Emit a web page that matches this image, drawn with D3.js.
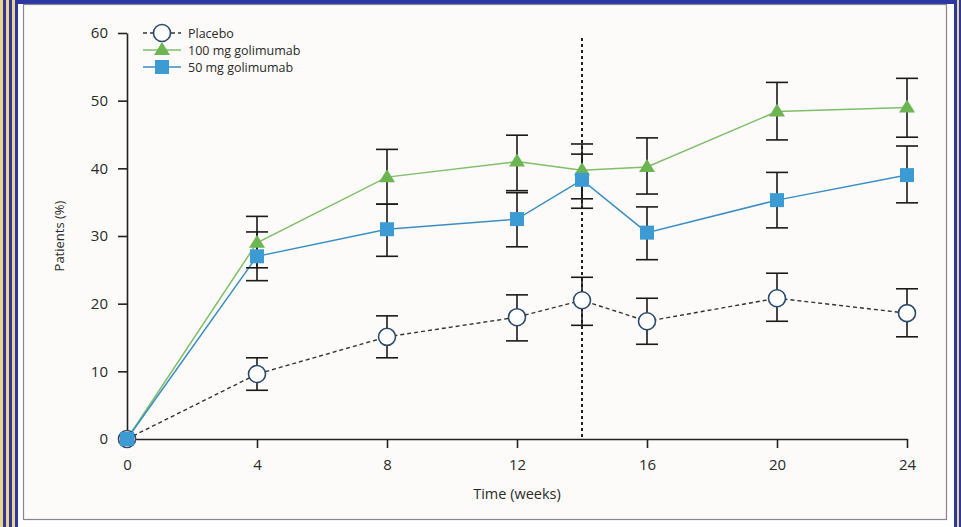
<!DOCTYPE html>
<html>
<head>
<meta charset="utf-8">
<script src="https://d3js.org/d3.v7.min.js"></script>
<style>
    body {margin: 0; background: #ffffff;}
    #chart text {font-family: "Open Sans", sans-serif; fill: #2a2a2a;}
    .axis path, .axis line {stroke: #222; stroke-width: 1.6px;}
    .axis text {font-size: 15px;}
</style>
</head>
<body>
<div id="chart"></div>
<script>

    let weeks = [0, 4, 8, 12, 14, 16, 20, 24];

    let placebo   = [0, 9.6, 15.1, 18.0, 20.5, 17.4, 20.8, 18.6];
    let placeboLo = [0, 7.2, 12.0, 14.5, 16.8, 14.0, 17.4, 15.1];
    let placeboHi = [0, 12.0, 18.2, 21.3, 23.9, 20.8, 24.5, 22.2];

    let g100   = [0, 29.0, 38.7, 41.0, 39.7, 40.2, 48.4, 49.0];
    let g100Lo = [0, 25.3, 34.7, 36.7, 35.5, 36.2, 44.2, 44.6];
    let g100Hi = [0, 32.9, 42.8, 44.9, 43.6, 44.5, 52.7, 53.3];

    let g50   = [0, 27.0, 31.0, 32.5, 38.3, 30.5, 35.3, 39.0];
    let g50Lo = [0, 23.4, 27.0, 28.4, 34.1, 26.5, 31.2, 34.9];
    let g50Hi = [0, 30.6, 34.7, 36.4, 42.1, 34.3, 39.4, 43.3];

    let xTicks = [0, 4, 8, 12, 16, 20, 24];
    let yTicks = [0, 10, 20, 30, 40, 50, 60];
    let cutoffWeek = 14;

    let series = [
        {name: "Placebo", values: placebo, lo: placeboLo, hi: placeboHi, marker: "circle"},
        {name: "100 mg golimumab", values: g100, lo: g100Lo, hi: g100Hi, marker: "triangle"},
        {name: "50 mg golimumab", values: g50, lo: g50Lo, hi: g50Hi, marker: "square"}
    ];

    let W = 961, H = 527;
    let margin = {top: 33, right: 54, bottom: 88, left: 127};

    let svg = d3.select("#chart").append("svg")
        .attr("width", W).attr("height", H);

    // scanned page frame
    let stripes = ["#ecd48a", "#2b37a3", "#ecd48a", "#2b37a3", "#ecd48a", "#2b37a3"];
    stripes.forEach(function(c, i) {
        svg.append("rect").attr("x", i * 3).attr("y", 0).attr("width", 3).attr("height", H).attr("fill", c);
    });
    svg.append("rect").attr("x", 18).attr("y", 0).attr("width", 937).attr("height", 4).attr("fill", "#2b37a3");
    svg.append("rect").attr("x", 954).attr("y", 0).attr("width", 3).attr("height", H).attr("fill", "#2b37a3");
    svg.append("rect").attr("x", 957).attr("y", 0).attr("width", 2).attr("height", H).attr("fill", "#ecd48a");
    svg.append("rect").attr("x", 959).attr("y", 0).attr("width", 2).attr("height", H).attr("fill", "#2b37a3");

    svg.append("rect")
        .attr("x", 23.5).attr("y", 4.5).attr("width", 923).attr("height", 515)
        .attr("fill", "#fcfbf9").attr("stroke", "#8a8590").attr("stroke-width", 1.2);

    let x = d3.scaleLinear().domain([0, 24]).range([margin.left, 907]);
    let y = d3.scaleLinear().domain([0, 60]).range([439, margin.top]);

    let yAxis = d3.axisLeft(y).tickValues(yTicks).tickSize(9).tickSizeOuter(0).tickPadding(10);
    let xAxis = d3.axisBottom(x).tickValues(xTicks).tickSize(9).tickSizeOuter(0).tickPadding(11);

    svg.append("g").attr("class", "axis")
        .attr("transform", "translate(" + margin.left + ",0)")
        .call(yAxis);

    svg.append("g").attr("class", "axis")
        .attr("transform", "translate(0," + y(0) + ")")
        .call(xAxis);

    svg.selectAll(".axis .domain").attr("stroke-width", 1.8);

    // cut-off at week 14
    svg.append("line")
        .attr("x1", x(cutoffWeek)).attr("x2", x(cutoffWeek))
        .attr("y1", 38).attr("y2", y(0))
        .attr("stroke", "#222").attr("stroke-width", 2)
        .attr("stroke-dasharray", "3,3");

    svg.append("text")
        .attr("transform", "translate(64," + y(30) + ") rotate(-90)")
        .attr("text-anchor", "middle")
        .style("font-size", "13px")
        .text("Patients (%)");

    svg.append("text")
        .attr("x", x(12)).attr("y", 499)
        .attr("text-anchor", "middle")
        .style("font-size", "14.5px")
        .text("Time (weeks)");

    let styles = {
        circle: {line: "#333", width: 1.4, dash: "4,3"},
        triangle: {line: "#7fbf6a", width: 1.5, dash: null},
        square: {line: "#3a8fc2", width: 1.5, dash: null}
    };

    let line = d3.line()
        .x(function(d, i) { return x(weeks[i]); })
        .y(function(d) { return y(d); });

    series.forEach(function(s) {
        let st = styles[s.marker];
        svg.append("path")
            .attr("d", line(s.values))
            .attr("fill", "none")
            .attr("stroke", st.line)
            .attr("stroke-width", st.width)
            .attr("stroke-dasharray", st.dash);
    });

    // error bars
    let cap = 11;
    series.forEach(function(s) {
        let g = svg.append("g").attr("stroke", "#1a1a1a").attr("stroke-width", 1.6);
        weeks.forEach(function(w, i) {
            if (s.lo[i] === s.hi[i]) return;
            let cx = x(w);
            g.append("line").attr("x1", cx).attr("x2", cx).attr("y1", y(s.lo[i])).attr("y2", y(s.hi[i]));
            g.append("line").attr("x1", cx - cap).attr("x2", cx + cap).attr("y1", y(s.lo[i])).attr("y2", y(s.lo[i]));
            g.append("line").attr("x1", cx - cap).attr("x2", cx + cap).attr("y1", y(s.hi[i])).attr("y2", y(s.hi[i]));
        });
    });

    function drawMarker(g, type, cx, cy) {
        if (type === "circle") {
            g.append("circle").attr("cx", cx).attr("cy", cy).attr("r", 8.5)
                .attr("fill", "#ffffff").attr("stroke", "#2c4a6e").attr("stroke-width", 1.6);
        } else if (type === "triangle") {
            g.append("path")
                .attr("d", "M" + cx + "," + (cy - 8) + "L" + (cx + 8) + "," + (cy + 5) + "L" + (cx - 8) + "," + (cy + 5) + "Z")
                .attr("fill", "#6cb552");
        } else {
            g.append("rect").attr("x", cx - 7).attr("y", cy - 7).attr("width", 14).attr("height", 14)
                .attr("fill", "#3d9bd3");
        }
    }

    series.forEach(function(s) {
        let g = svg.append("g");
        s.values.forEach(function(v, i) {
            drawMarker(g, s.marker, x(weeks[i]), y(v));
        });
    });

    // legend
    let legend = svg.append("g").attr("transform", "translate(143,33)");
    series.forEach(function(s, i) {
        let st = styles[s.marker];
        let ly = i * 17;
        legend.append("line")
            .attr("x1", 0).attr("x2", 38).attr("y1", ly).attr("y2", ly)
            .attr("stroke", st.line).attr("stroke-width", st.width)
            .attr("stroke-dasharray", st.dash);
        drawMarker(legend, s.marker, 19, ly);
        legend.append("text")
            .attr("x", 45).attr("y", ly + 4.5)
            .style("font-size", "12.5px")
            .text(s.name);
    });

</script>
</body>
</html>
